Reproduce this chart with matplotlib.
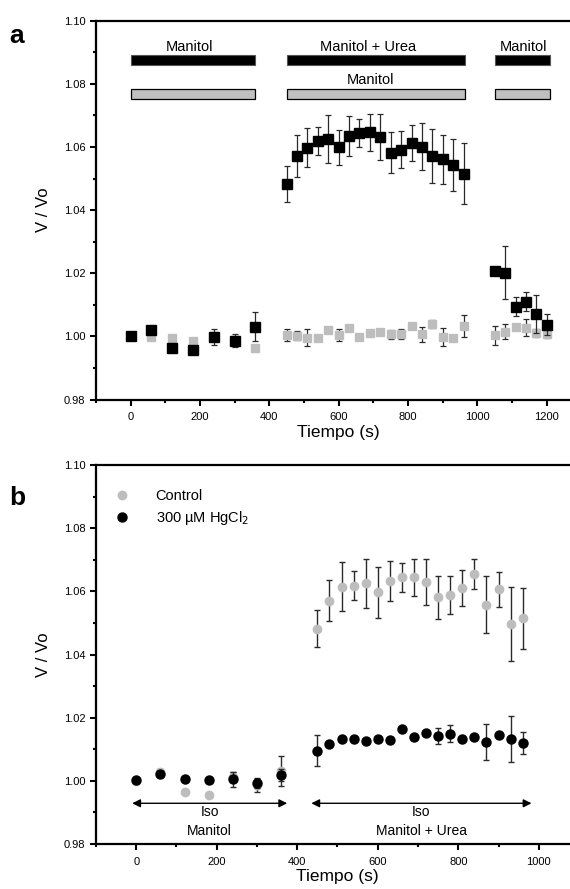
import matplotlib
matplotlib.use("Agg")
import matplotlib.pyplot as plt
from matplotlib.patches import Rectangle
from matplotlib.ticker import MultipleLocator, FormatStrFormatter

plt.rcParams['font.family'] = ['Liberation Sans', 'DejaVu Sans']

# ---------------- Panel a data ----------------
t_seg1 = [0, 60, 120, 180, 240, 300, 360]
t_seg2 = [450, 480, 510, 540, 570, 600, 630, 660, 690, 720, 750, 780, 810, 840, 870, 900, 930, 960]
t_seg3 = [1050, 1080, 1110, 1140, 1170, 1200]

a_urea_y = ([1.0000, 1.0020, 0.9964, 0.9958, 0.9998, 0.9986, 1.0031] +
            [1.0483, 1.0572, 1.0598, 1.0619, 1.0626, 1.0599, 1.0634, 1.0645, 1.0646,
             1.0632, 1.0582, 1.0592, 1.0612, 1.0601, 1.0571, 1.0561, 1.0543, 1.0515] +
            [1.0208, 1.0202, 1.0094, 1.0110, 1.0072, 1.0037])
a_urea_err = ([0.0004, 0.0010, 0.0004, 0.0004, 0.0026, 0.0020, 0.0047] +
              [0.0058, 0.0066, 0.0063, 0.0045, 0.0076, 0.0056, 0.0063, 0.0045, 0.0060,
               0.0074, 0.0066, 0.0060, 0.0057, 0.0075, 0.0085, 0.0078, 0.0083, 0.0097] +
              [0.0010, 0.0083, 0.0030, 0.0030, 0.0060, 0.0033])

a_man_y = ([1.0000, 0.9997, 0.9996, 0.9985, 1.0000, 0.9990, 0.9962] +
           [1.0004, 1.0002, 0.9996, 0.9996, 1.0021, 1.0004, 1.0028, 0.9999, 1.0012,
            1.0013, 1.0006, 1.0008, 1.0033, 1.0006, 1.0039, 0.9997, 0.9996, 1.0033] +
           [1.0003, 1.0015, 1.0029, 1.0028, 1.0010, 1.0006])
a_man_err = ([0.0004, 0.0010, 0.0008, 0.0008, 0.0008, 0.0008, 0.0008] +
             [0.0018, 0.0015, 0.0026, 0.0008, 0.0008, 0.0018, 0.0008, 0.0008, 0.0008,
              0.0008, 0.0015, 0.0015, 0.0008, 0.0025, 0.0012, 0.0028, 0.0008, 0.0035] +
             [0.0030, 0.0023, 0.0008, 0.0027, 0.0012, 0.0010])

# solution bars (start, end) and labels
bar_spans = [(0, 360), (450, 965), (1050, 1210)]
top_labels = ["Manitol", "Manitol + Urea", "Manitol"]
top_label_x = [170, 685, 1133]
mid_label = "Manitol"
mid_label_x = 692

# ---------------- Panel b data ----------------
tb = t_seg1 + t_seg2
b_ctrl_y = ([1.0000, 1.0027, 0.9966, 0.9956, 1.0013, 0.9986, 1.0032] +
            [1.0482, 1.0571, 1.0615, 1.0618, 1.0625, 1.0597, 1.0633, 1.0644, 1.0644,
             1.0630, 1.0581, 1.0589, 1.0611, 1.0655, 1.0558, 1.0606, 1.0496, 1.0515])
b_ctrl_err = ([0.0004, 0.0010, 0.0006, 0.0006, 0.0015, 0.0020, 0.0047] +
              [0.0059, 0.0066, 0.0078, 0.0045, 0.0078, 0.0080, 0.0063, 0.0046, 0.0060,
               0.0074, 0.0068, 0.0061, 0.0057, 0.0048, 0.0090, 0.0055, 0.0117, 0.0097])
b_hg_y = ([1.0002, 1.0021, 1.0005, 1.0003, 1.0005, 0.9993, 1.0018] +
          [1.0095, 1.0117, 1.0132, 1.0133, 1.0127, 1.0132, 1.0129, 1.0165, 1.0140,
           1.0150, 1.0142, 1.0149, 1.0131, 1.0140, 1.0122, 1.0144, 1.0132, 1.0120])
b_hg_err = ([0.0004, 0.0008, 0.0004, 0.0004, 0.0024, 0.0015, 0.0020] +
            [0.0049, 0.0004, 0.0004, 0.0004, 0.0004, 0.0004, 0.0010, 0.0004, 0.0004,
             0.0004, 0.0025, 0.0027, 0.0004, 0.0004, 0.0057, 0.0004, 0.0073, 0.0036])
iso_spans = [(-10, 375), (435, 982)]
iso_labels = ["Manitol", "Manitol + Urea"]

GRAY = '#bdbdbd'
ECOL = '#2a2a2a'

fig = plt.figure(figsize=(5.70, 8.89), dpi=100)
ax_a = fig.add_axes([0.1684, 0.5506, 0.8516, 0.4261])
ax_b = fig.add_axes([0.1684, 0.0506, 0.8474, 0.4263])


def style(ax, xmax):
    ax.set_xlim(-100, xmax)
    ax.set_ylim(0.98, 1.10)
    ax.spines['right'].set_visible(False)
    for s in ['left', 'top', 'bottom']:
        ax.spines[s].set_linewidth(1.6)
    ax.xaxis.set_major_locator(MultipleLocator(200))
    ax.xaxis.set_minor_locator(MultipleLocator(100))
    ax.yaxis.set_major_locator(MultipleLocator(0.02))
    ax.yaxis.set_minor_locator(MultipleLocator(0.01))
    ax.yaxis.set_major_formatter(FormatStrFormatter('%.2f'))
    ax.tick_params(which='major', direction='out', length=4, width=1.5,
                   labelsize=8, top=False, right=False)
    ax.tick_params(axis='x', which='major', pad=5)
    ax.tick_params(which='minor', direction='out', length=2.5, width=1.5,
                   top=False, right=False)
    ax.set_ylabel('V / Vo', fontsize=12, labelpad=9)
    ax.set_xlabel('Tiempo (s)', fontsize=12.5, labelpad=2)


# ---- panel a ----
style(ax_a, 1300)
ax_a.errorbar(t_seg1 + t_seg2 + t_seg3, a_man_y, yerr=a_man_err, fmt='s', ms=5.5,
              color=GRAY, mec=GRAY, ecolor=ECOL, elinewidth=0.9, capsize=2, capthick=0.9,
              zorder=3)
ax_a.errorbar(t_seg1 + t_seg2 + t_seg3, a_urea_y, yerr=a_urea_err, fmt='s', ms=6.5,
              color='black', ecolor=ECOL, elinewidth=0.9, capsize=2, capthick=0.9,
              zorder=4)
for (x0, x1) in bar_spans:
    ax_a.add_patch(Rectangle((x0, 1.0859), x1 - x0, 0.0032, facecolor='black',
                             edgecolor='#555555', lw=0.8, zorder=2))
    ax_a.add_patch(Rectangle((x0, 1.0751), x1 - x0, 0.0032, facecolor='#c0c0c0',
                             edgecolor='black', lw=0.9, zorder=2))
for lx, lab in zip(top_label_x, top_labels):
    ax_a.text(lx, 1.0918, lab, ha='center', va='center', fontsize=10.5)
ax_a.text(mid_label_x, 1.0812, mid_label, ha='center', va='center', fontsize=10.5)

# ---- panel b ----
style(ax_b, 1100)
ax_b.errorbar(tb, b_ctrl_y, yerr=b_ctrl_err, fmt='o', ms=6, color=GRAY, mec=GRAY,
              ecolor=ECOL, elinewidth=1.0, capsize=2, capthick=1.0, zorder=3,
              label='Control')
ax_b.errorbar(tb, b_hg_y, yerr=b_hg_err, fmt='o', ms=6.5, color='black',
              ecolor=ECOL, elinewidth=1.0, capsize=2, capthick=1.0, zorder=4,
              label='300 µM HgCl$_2$')
for (x0, x1), lab in zip(iso_spans, iso_labels):
    ax_b.annotate('', xy=(x0, 0.9929), xytext=(x1, 0.9929),
                  arrowprops=dict(arrowstyle='<|-|>', color='black', lw=1.0,
                                  mutation_scale=12, shrinkA=0, shrinkB=0))
    ax_b.text((x0 + x1) / 2, 0.9901, 'Iso', ha='center', va='center', fontsize=10)
    ax_b.text((x0 + x1) / 2, 0.9842, lab, ha='center', va='center', fontsize=10)

h, l = ax_b.get_legend_handles_labels()
h = [hh[0] for hh in h]
ax_b.legend(h, l, loc='upper left', bbox_to_anchor=(0.039, 0.937), frameon=False,
            fontsize=10.5, handletextpad=1.8, handlelength=1.0, labelspacing=0.4,
            borderaxespad=0.0, borderpad=0.0)

fig.text(9 / 570, 1 - 43 / 889, 'a', fontsize=19, fontweight='bold', ha='left',
         va='baseline')
fig.text(9 / 570, 1 - 505 / 889, 'b', fontsize=19, fontweight='bold', ha='left',
         va='baseline')

fig.savefig('out.png', dpi=100)
